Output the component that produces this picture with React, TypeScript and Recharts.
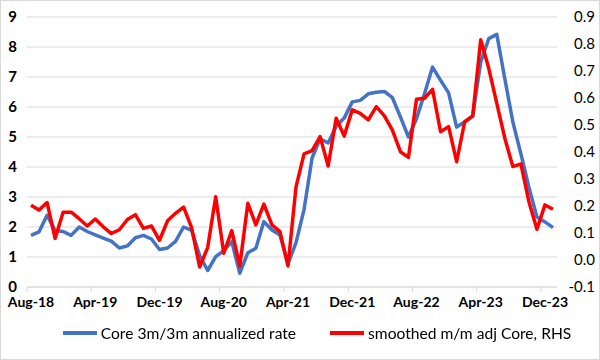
import { CartesianGrid, Legend, Line, LineChart, XAxis, YAxis } from "recharts";

// Monthly, Aug-18 .. Jan-24
const START_YEAR = 2018;
const START_MONTH = 7; // August (0-based)
const MONTH_NAMES = ["Jan", "Feb", "Mar", "Apr", "May", "Jun", "Jul", "Aug", "Sep", "Oct", "Nov", "Dec"];

// Core 3m/3m annualized rate (left axis, %)
const coreRate = [
  1.72, 1.84, 2.39, 1.88, 1.85, 1.72, 2.0, 1.85, 1.74, 1.63, 1.53, 1.3,
  1.37, 1.64, 1.72, 1.6, 1.25, 1.3, 1.52, 2.0, 1.89, 1.05, 0.55, 1.01,
  1.21, 1.51, 0.46, 1.14, 1.29, 2.18, 1.9, 1.73, 0.77, 1.48, 2.58, 4.3,
  4.94, 4.8, 5.36, 5.63, 6.17, 6.22, 6.44, 6.49, 6.52, 6.31, 5.67, 5.0,
  5.61, 6.44, 7.33, 6.89, 6.47, 5.33, 5.5, 5.7, 7.5, 8.28, 8.42, 6.94,
  5.5, 4.44, 3.33, 2.33, 2.17, 1.98,
];

// smoothed m/m adj Core (right axis, %)
const smoothedMm = [
  0.203, 0.185, 0.213, 0.08, 0.177, 0.177, 0.153, 0.126, 0.152, 0.123, 0.098, 0.112,
  0.15, 0.168, 0.117, 0.126, 0.073, 0.145, 0.173, 0.196, 0.12, -0.026, 0.046, 0.234,
  0.025, 0.109, -0.022, 0.21, 0.13, 0.207, 0.13, 0.105, -0.022, 0.271, 0.393, 0.405,
  0.457, 0.348, 0.525, 0.459, 0.556, 0.543, 0.519, 0.568, 0.534, 0.481, 0.401, 0.38,
  0.595, 0.599, 0.632, 0.475, 0.494, 0.364, 0.512, 0.533, 0.816, 0.71, 0.58, 0.451,
  0.346, 0.356, 0.216, 0.114, 0.204, 0.188,
];

const months = coreRate.map((_, i) => {
  const m = START_MONTH + i;
  const yy = String(START_YEAR + Math.floor(m / 12)).slice(2);
  return `${MONTH_NAMES[m % 12]}-${yy}`;
});

const xTicks = ["Aug-18", "Apr-19", "Dec-19", "Aug-20", "Apr-21", "Dec-21", "Aug-22", "Apr-23", "Dec-23"];
const leftTicks = [0, 1, 2, 3, 4, 5, 6, 7, 8, 9];
const rightTicks = [-0.1, 0, 0.1, 0.2, 0.3, 0.4, 0.5, 0.6, 0.7, 0.8, 0.9];

const data = months.map((month, i) => ({
  month,
  core: coreRate[i],
  smoothed: smoothedMm[i],
}));

const FONT = "Lato, 'Liberation Sans', sans-serif";
const BLUE = "#4472C4";
const RED = "#FF0000";
const GRID = "#d9d9d9";

// Excel puts the tick mark on the left edge of the labelled month.
function MonthTick({ x, y, payload }: any) {
  return (
    <g>
      <line x1={x - 4} x2={x - 4} y1={y - 10} y2={y - 5} stroke={GRID} />
      <text x={x} y={y} dy="0.71em" textAnchor="middle" fontSize={14} fontWeight={700} fill="#000">
        {payload.value}
      </text>
    </g>
  );
}

function RightTick({ x, y, payload }: any) {
  return (
    <text x={x + 30} y={y} dy="0.355em" textAnchor="end" fontSize={15} fill="#000">
      {Number(payload.value).toFixed(1)}
    </text>
  );
}

function SeriesLegend({ payload }: any) {
  return (
    <div
      style={{
        display: "flex",
        justifyContent: "center",
        gap: 34,
        height: 18,
        lineHeight: "18px",
        fontFamily: FONT,
        fontSize: 15.6,
        color: "#000",
      }}
    >
      {(payload ?? []).map((item: any) => (
        <span key={item.value} style={{ display: "flex", alignItems: "center" }}>
          <span style={{ display: "inline-block", width: 34, height: 4, background: item.color, marginRight: 4 }} />
          {item.value}
        </span>
      ))}
    </div>
  );
}

export default function App() {
  return (
    <div
      style={{
        position: "fixed",
        left: 0,
        top: 0,
        width: 600,
        height: 360,
        boxSizing: "border-box",
        border: `1px solid ${GRID}`,
        background: "#fff",
        fontFamily: FONT,
      }}
    >
      <LineChart
        width={598}
        height={358}
        data={data}
        margin={{ top: 16, right: 0, bottom: 26, left: -1 }}
        style={{ fontFamily: FONT }}
      >
        <CartesianGrid yAxisId="left" vertical={false} stroke={GRID} />
        <XAxis
          dataKey="month"
          ticks={xTicks}
          interval={0}
          padding={{ left: 4, right: 4 }}
          height={28}
          tickSize={5}
          tickMargin={5}
          tickLine={false}
          axisLine={{ stroke: GRID }}
          tick={<MonthTick />}
        />
        <YAxis
          yAxisId="left"
          domain={[0, 9]}
          ticks={leftTicks}
          interval={0}
          width={27}
          tickSize={0}
          tickMargin={10}
          axisLine={false}
          tickLine={false}
          tick={{ fontSize: 15, fontWeight: 700, fill: "#000" }}
        />
        <YAxis
          yAxisId="right"
          orientation="right"
          domain={[-0.1, 0.9]}
          ticks={rightTicks}
          interval={0}
          width={42}
          tickSize={0}
          tickMargin={8}
          axisLine={false}
          tickLine={false}
          tick={<RightTick />}
        />
        <Legend
          layout="vertical"
          verticalAlign="bottom"
          align="center"
          content={<SeriesLegend />}
          wrapperStyle={{ left: 17, top: 323, width: 598 }}
        />
        <Line
          yAxisId="left"
          type="linear"
          dataKey="core"
          name="Core 3m/3m annualized rate"
          stroke={BLUE}
          strokeWidth={3.5}
          strokeLinejoin="round"
          dot={false}
          activeDot={false}
          isAnimationActive={false}
        />
        <Line
          yAxisId="right"
          type="linear"
          dataKey="smoothed"
          name="smoothed m/m adj Core, RHS"
          stroke={RED}
          strokeWidth={3.5}
          strokeLinejoin="round"
          dot={false}
          activeDot={false}
          isAnimationActive={false}
        />
      </LineChart>
    </div>
  );
}
